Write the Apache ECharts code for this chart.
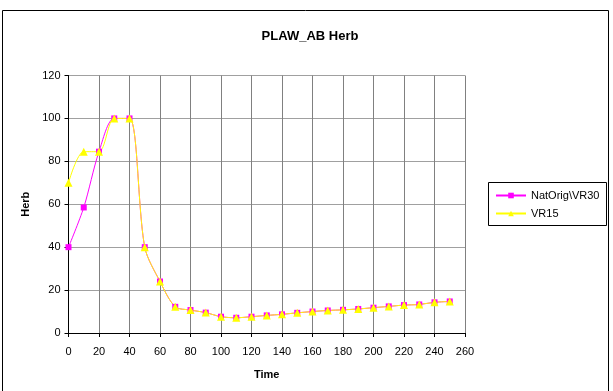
<!DOCTYPE html>
<html><head><meta charset="utf-8">
<script src="https://cdn.jsdelivr.net/npm/echarts@6/dist/echarts.min.js"></script>
<style>html,body{margin:0;padding:0;background:#fff}#c{width:613px;height:391px}</style>
</head><body><div id="c"></div>
<script>
const times = [0,10,20,30,40,50,60,70,80,90,100,110,120,130,140,150,160,170,180,190,200,210,220,230,240,250];
const natOrig = [40,58.5,84.5,100,100,40,24,12.2,10.7,9.5,7.6,7.1,7.6,8.2,8.7,9.4,10,10.5,10.8,11.2,11.8,12.4,13,13.3,14.3,14.7];
const vr15    = [70,84.5,84.5,100,100,40,24,12.2,10.7,9.5,7.6,7.1,7.6,8.2,8.7,9.4,10,10.5,10.8,11.2,11.8,12.4,13,13.3,14.3,14.7];
const seriesNames = ['NatOrig\\VR30','VR15'];
const font = 'Liberation Sans, Arial, sans-serif';
const chart = echarts.init(document.getElementById('c'), null, {renderer:'canvas'});
chart.setOption({
  animation:false,
  backgroundColor:'#fff',
  title:{text:'PLAW_AB Herb',left:305,top:25,textAlign:'center',textStyle:{fontFamily:font,fontSize:13,fontWeight:'bold',color:'#000'}},
  graphic:[
    {type:'rect',shape:{x:2.5,y:10.5,width:606,height:386},style:{fill:null,stroke:'#000',lineWidth:1},z:-1},
    {type:'rect',shape:{x:488.5,y:182.5,width:118,height:43},style:{fill:'#fff',stroke:'#000',lineWidth:1},z:1}
  ],
  legend:{orient:'vertical',left:490,top:185,itemGap:7,itemWidth:30,itemHeight:7,
    textStyle:{fontFamily:font,fontSize:11,color:'#000'},
    data:seriesNames,z:2},
  grid:{left:68.5,top:75.5,right:148,bottom:58},
  xAxis:{type:'value',min:0,max:260,interval:20,name:'Time',nameLocation:'middle',nameGap:36,
    nameTextStyle:{fontFamily:font,fontSize:11,fontWeight:'bold',color:'#000'},
    axisLine:{lineStyle:{color:'#000',width:1}},axisTick:{show:true,length:4,lineStyle:{color:'#000'}},
    axisLabel:{fontFamily:font,fontSize:11,color:'#000',margin:13},
    splitLine:{show:true,lineStyle:{color:'#808080',width:1}}},
  yAxis:{type:'value',min:0,max:120,interval:20,name:'Herb',nameLocation:'middle',nameGap:36,nameRotate:90,
    nameTextStyle:{fontFamily:font,fontSize:11,fontWeight:'bold',color:'#000'},
    axisLine:{show:true,lineStyle:{color:'#000',width:1}},axisTick:{show:true,length:4,lineStyle:{color:'#000'}},
    axisLabel:{fontFamily:font,fontSize:11,color:'#000',margin:8},
    splitLine:{show:true,lineStyle:{color:'#a0a0a0',width:1}}},
  series:[
    {name:seriesNames[0],type:'line',data:times.map((t,i)=>[t,natOrig[i]]),smooth:0.3,
      symbol:'rect',symbolSize:6,itemStyle:{color:'#FF00FF'},lineStyle:{color:'#FF00FF',width:1}},
    {name:seriesNames[1],type:'line',data:times.map((t,i)=>[t,vr15[i]]),smooth:0.3,
      symbol:'triangle',symbolSize:8,itemStyle:{color:'#FFFF00'},lineStyle:{color:'#FFFF00',width:1}}
  ]
});
</script></body></html>
